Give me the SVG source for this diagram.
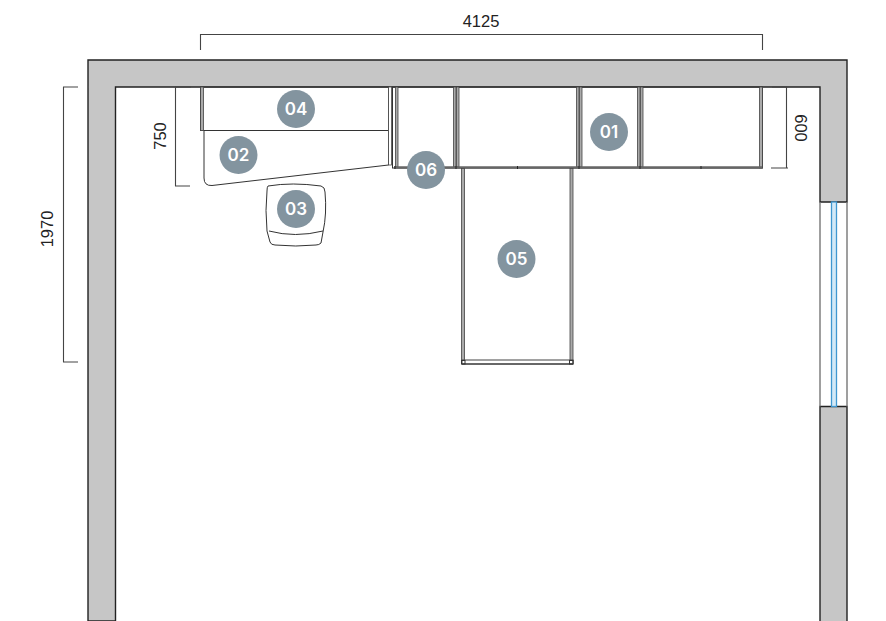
<svg xmlns="http://www.w3.org/2000/svg" width="886" height="621" viewBox="0 0 886 621">
<style>
.wall{fill:#c6c6c6;stroke:#222;stroke-width:1.4}
.l{fill:none;stroke:#333;stroke-width:1}
.d{fill:none;stroke:#444;stroke-width:1.100}
.p{fill:#aaa;stroke:#444;stroke-width:.8}
.t{font-family:"Liberation Sans",Arial,sans-serif;font-size:16.500px;fill:#222;text-anchor:middle}
.c{fill:#83949f}
.n{font-family:"Inter","Liberation Sans",sans-serif;font-size:17px;font-weight:600;fill:#fff;text-anchor:middle;dominant-baseline:central}
</style>
<rect width="886" height="621" fill="#fff"/>
<g id="walls">
<path class="wall" d="M88 621V60H847V202H820V87H115.500V621Z"/>
<path class="wall" d="M820 621V406.500H847V621"/>
<path fill="none" stroke="#777" stroke-width="1.400" d="M820 202V406.500M847 202V406.500"/>
<rect id="window" x="831.500" y="202" width="5" height="204.500" fill="#d3e9f7" stroke="#3f97d0" stroke-width="1.300"/>
</g>
<g id="furniture">
<g id="desk">
<path class="l" d="M204 131V178Q204 186 212 185.500L388.500 165V131"/>
<rect class="l" x="200.500" y="87" width="188" height="43.500"/>
<rect class="p" x="200.500" y="87" width="3" height="43.500"/>
<rect fill="#fff" stroke="#444" stroke-width=".8" x="388.500" y="87" width="3" height="78"/>
</g>
<g id="chair">
<path class="l" d="M268 186Q292 182 321 186Q325 187 325 192Q327 214 323 232L321 243Q319 245 316 245Q296 247 275 245Q271 245 270 242L267 231Q265 210 267 191Q267 187 268 186Z"/>
<path class="l" d="M269 231Q295 238 323 231"/>
</g>
<g id="units">
<rect class="l" x="392.500" y="87" width="370" height="81"/>
<rect class="p" x="395.500" y="87" width="2.500" height="80"/>
<rect class="p" x="453.500" y="87" width="2.500" height="80"/>
<rect class="p" x="456.500" y="87" width="2.500" height="80"/>
<rect class="p" x="576.500" y="87" width="2.500" height="80"/>
<rect class="p" x="579.500" y="87" width="2.500" height="80"/>
<rect class="p" x="637.500" y="87" width="2.500" height="80"/>
<rect class="p" x="640.500" y="87" width="2.500" height="80"/>
<rect class="p" x="759.500" y="87" width="3" height="81"/>
<path stroke="#666" stroke-width="2.500" fill="none" d="M394 167.500H762"/>
<path stroke="#222" stroke-width="1" fill="none" d="M517.500 166V169M701 166V169M395 166V169M456 166V169M579 166V169M640 166V169"/>
</g>
<g id="table">
<rect class="p" x="461.500" y="168.500" width="3" height="195"/>
<rect class="p" x="570" y="168.500" width="3" height="195"/>
<rect fill="#fff" stroke="#444" stroke-width="1" x="462" y="360" width="111" height="4"/>
<path stroke="#555" stroke-width="1.500" d="M462 364H573"/>
<rect class="l" x="461.500" y="360.500" width="3.500" height="3.500"/>
<rect class="l" x="569.500" y="360.500" width="3.500" height="3.500"/>
</g>
</g>
<g id="dimensions">
<path class="d" d="M200.500 50V34.500H762.500V50"/>
<text class="t" x="481" y="26.500">4125</text>
<path class="d" d="M63 87H78M63 362H78M63.500 87V362"/>
<text class="t" transform="translate(53 229) rotate(-90)">1970</text>
<path class="d" d="M175 87H191M175 186H190M175.500 87V186"/>
<text class="t" transform="translate(165.500 136) rotate(-90)">750</text>
<path class="d" d="M772 87H787M771 168H788M786.500 87V168"/>
<text class="t" transform="translate(795 128) rotate(90)">600</text>
</g>
<g id="n01"><circle class="c" cx="609" cy="132" r="19"/><text class="n" x="609" y="132">01</text></g>
<g id="n02"><circle class="c" cx="238.500" cy="155" r="19"/><text class="n" x="238.500" y="155">02</text></g>
<g id="n03"><circle class="c" cx="296" cy="209" r="19"/><text class="n" x="296" y="209">03</text></g>
<g id="n04"><circle class="c" cx="296" cy="109" r="19"/><text class="n" x="296" y="109">04</text></g>
<g id="n05"><circle class="c" cx="516.500" cy="259" r="19"/><text class="n" x="516.500" y="259">05</text></g>
<g id="n06"><circle class="c" cx="426" cy="170" r="19"/><text class="n" x="426" y="170">06</text></g>
</svg>
